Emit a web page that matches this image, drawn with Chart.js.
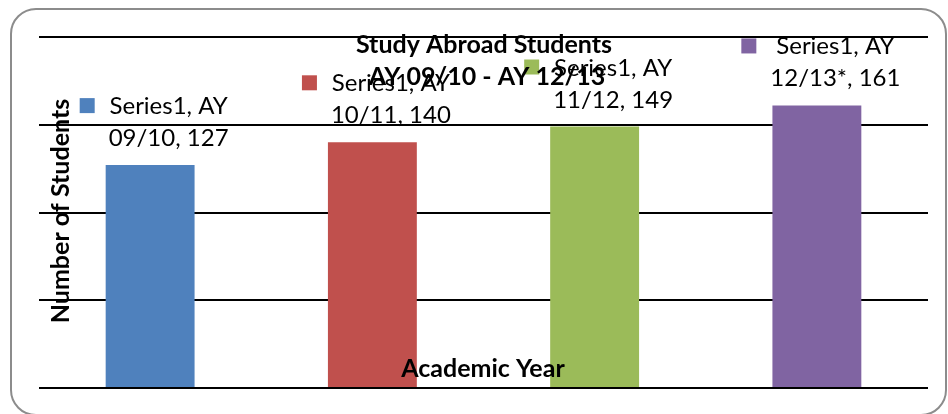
<!DOCTYPE html>
<html>
<head>
<meta charset="utf-8">
<script src="https://cdn.jsdelivr.net/npm/chart.js@4"></script>
<style>
    html, body { margin: 0; padding: 0; background: #fff; }
    #wrap { position: relative; width: 948px; height: 414px; overflow: hidden; }
    #frame {
        position: absolute; left: 10px; top: 8px; width: 937px; height: 408px;
        border: 2px solid #8c8c8c; border-radius: 26px; box-sizing: border-box;
    }
    #chart { position: absolute; left: 0; top: 0; }
</style>
</head>
<body>
<div id="wrap">
    <div id="frame"></div>
    <canvas id="chart" width="948" height="414"></canvas>
</div>
<script>
(() => {
    const seriesName = "Series1";
    const categories = ["AY 09/10", "AY 10/11", "AY 11/12", "AY 12/13*"];
    const students = [127, 140, 149, 161];
    const barColors = ["#4f81bd", "#c0504d", "#9bbb59", "#8064a2"];
    const yTicks = [0, 50, 100, 150, 200];

    const titleLines = ["Study Abroad Students", "AY 09/10 - AY 12/13"];
    const xTitle = "Academic Year";
    const yTitle = "Number of Students";

    const fontFamily = "Lato, 'Open Sans', sans-serif";

    // excel-style data labels with legend key, plus titles drawn over the grid
    const overlayPlugin = {
        id: "overlay",
        afterDatasetsDraw(chart) {
            const ctx = chart.ctx;
            const meta = chart.getDatasetMeta(0);
            ctx.save();
            ctx.fillStyle = "#000";

            ctx.font = "24px " + fontFamily;
            ctx.textBaseline = "alphabetic";
            meta.data.forEach((bar, i) => {
                const parts = categories[i].split(" ");
                const line1 = seriesName + ", " + parts[0];
                const line2 = parts.slice(1).join(" ") + ", " + students[i];
                const w = Math.max(ctx.measureText(line1).width, ctx.measureText(line2).width);
                const blockW = 15 + 14 + w;
                const left = bar.x + 4 - blockW / 2;
                const textCx = left + 29 + w / 2;
                const base2 = bar.y - 19;
                const base1 = base2 - 32;

                ctx.fillStyle = barColors[i];
                ctx.fillRect(left, base1 - 16, 15, 15);
                ctx.fillStyle = "#000";
                ctx.textAlign = "center";
                ctx.fillText(line1, textCx, base1);
                ctx.fillText(line2, textCx, base2);
            });

            ctx.font = "bold 25px " + fontFamily;
            ctx.textAlign = "center";
            ctx.fillText(titleLines[0], 484, 53);
            ctx.fillText(titleLines[1], 487, 85);

            ctx.fillText(xTitle, 483, 377);

            ctx.translate(69, 211);
            ctx.rotate(-Math.PI / 2);
            ctx.fillText(yTitle, 0, 0);
            ctx.restore();
        }
    };

    new Chart(document.getElementById("chart"), {
        type: "bar",
        data: {
            labels: categories,
            datasets: [{
                label: seriesName,
                data: students,
                backgroundColor: barColors,
                borderWidth: 0,
                barPercentage: 0.4,
                categoryPercentage: 1.0
            }]
        },
        options: {
            responsive: false,
            animation: false,
            layout: { padding: { left: 39, right: 20, top: 37, bottom: 26 } },
            plugins: {
                legend: { display: false },
                title: { display: false },
                tooltip: { enabled: false }
            },
            scales: {
                x: {
                    display: false,
                    grid: { display: false }
                },
                y: {
                    min: yTicks[0],
                    max: yTicks[yTicks.length - 1],
                    afterBuildTicks: (scale) => {
                        scale.ticks = yTicks.map((v) => ({ value: v }));
                    },
                    ticks: { display: false },
                    border: { display: false },
                    grid: { color: "#000", lineWidth: 2, drawTicks: false }
                }
            }
        },
        plugins: [overlayPlugin]
    });
})();
</script>
</body>
</html>
